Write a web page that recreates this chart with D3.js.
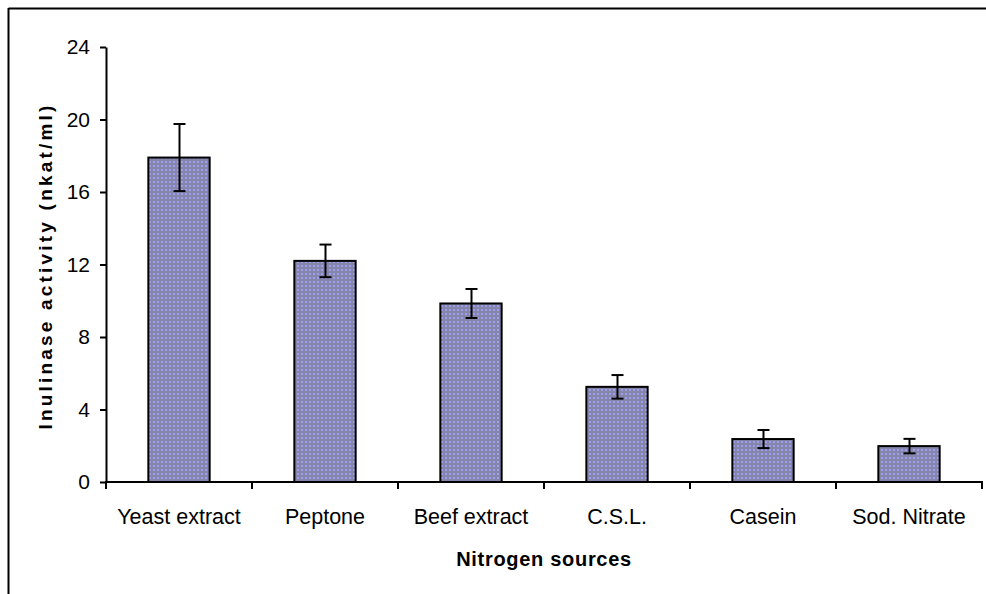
<!DOCTYPE html>
<html>
<head>
<meta charset="utf-8">
<script src="https://cdn.jsdelivr.net/npm/d3@7"></script>
<style>
  html, body { margin: 0; padding: 0; background: #fff; }
  svg { display: block; font-family: Arial, "Liberation Sans", sans-serif; }
</style>
</head>
<body>
<svg id="chart" width="986" height="594"></svg>
<script>
// Inulinase activity by nitrogen source (mean ± error)
const categories = ["Yeast extract", "Peptone", "Beef extract", "C.S.L.", "Casein", "Sod. Nitrate"];
const activity = [17.9, 12.2, 9.85, 5.25, 2.37, 1.98];
const errors = [1.85, 0.9, 0.8, 0.65, 0.5, 0.4];
const yTicks = [0, 4, 8, 12, 16, 20, 24];

const svg = d3.select("#chart");
const W = 986, H = 594;

// Frame around the chart area
svg.append("line").attr("x1", 8.5).attr("x2", W).attr("y1", 8.5).attr("y2", 8.5)
  .attr("stroke", "#000").attr("stroke-width", 2);
svg.append("line").attr("x1", 8.5).attr("x2", 8.5).attr("y1", 8).attr("y2", H)
  .attr("stroke", "#000").attr("stroke-width", 2);

// Dotted fill for the bars
const defs = svg.append("defs");
const pat = defs.append("pattern").attr("id", "dots")
  .attr("patternUnits", "userSpaceOnUse").attr("width", 4).attr("height", 4);
pat.append("rect").attr("width", 4).attr("height", 4).attr("fill", "#8686aa");
pat.append("rect").attr("x", 1).attr("y", 1).attr("width", 2).attr("height", 2).attr("fill", "#9e9ef0");

const x = d3.scaleBand().domain(categories)
  .range([106, 982]).paddingInner(0).paddingOuter(0);
const y = d3.scaleLinear().domain([0, 24]).range([482, 47]);

const barW = x.bandwidth() * 0.42;

// Bars
svg.append("g").selectAll("rect").data(categories).join("rect")
  .attr("x", d => x(d) + (x.bandwidth() - barW) / 2)
  .attr("y", (d, i) => y(activity[i]))
  .attr("width", barW)
  .attr("height", (d, i) => y(0) - y(activity[i]))
  .attr("fill", "url(#dots)")
  .attr("stroke", "#000").attr("stroke-width", 2);

// Error bars
const eg = svg.append("g").attr("stroke", "#000").attr("stroke-width", 2);
categories.forEach((c, i) => {
  const cx = Math.round(x(c) + x.bandwidth() / 2) + 0.5;
  const hi = y(activity[i] + errors[i]), lo = y(activity[i] - errors[i]);
  eg.append("line").attr("x1", cx).attr("x2", cx).attr("y1", hi).attr("y2", lo);
  eg.append("line").attr("x1", cx - 6).attr("x2", cx + 6).attr("y1", hi).attr("y2", hi);
  eg.append("line").attr("x1", cx - 6).attr("x2", cx + 6).attr("y1", lo).attr("y2", lo);
});

// Y axis
const yAxis = svg.append("g").attr("transform", "translate(106,0)")
  .call(d3.axisLeft(y).tickValues(yTicks).tickSize(6).tickSizeOuter(0).tickPadding(10));
yAxis.select(".domain").attr("stroke-width", 2);
yAxis.selectAll(".tick line").attr("stroke-width", 2);
yAxis.selectAll(".tick text").attr("font-size", 21).attr("fill", "#000")
  .attr("font-family", "Arial, 'Liberation Sans', sans-serif");

// X axis with ticks at the category boundaries
const xAxis = svg.append("g").attr("transform", "translate(0,482)");
xAxis.append("line").attr("x1", 105).attr("x2", 983).attr("stroke", "#000").attr("stroke-width", 2);
const bounds = categories.map(c => x(c)).concat([x.range()[1]]);
xAxis.selectAll(".xt").data(bounds).join("line").attr("class", "xt")
  .attr("x1", d => d).attr("x2", d => d).attr("y1", 0).attr("y2", 7)
  .attr("stroke", "#000").attr("stroke-width", 2);
xAxis.selectAll(".xl").data(categories).join("text").attr("class", "xl")
  .attr("x", d => x(d) + x.bandwidth() / 2).attr("y", 42)
  .attr("text-anchor", "middle").attr("font-size", 21.5).text(d => d);

// Axis titles
svg.append("text").attr("x", 544).attr("y", 566).attr("text-anchor", "middle")
  .attr("font-size", 20).attr("font-weight", "bold").attr("letter-spacing", 0.7)
  .text("Nitrogen sources");
svg.append("text").attr("transform", "translate(52,266) rotate(-90)")
  .attr("text-anchor", "middle").attr("font-size", 19).attr("font-weight", "bold")
  .attr("letter-spacing", 3.2)
  .text("Inulinase activity (nkat/ml)");
</script>
</body>
</html>
